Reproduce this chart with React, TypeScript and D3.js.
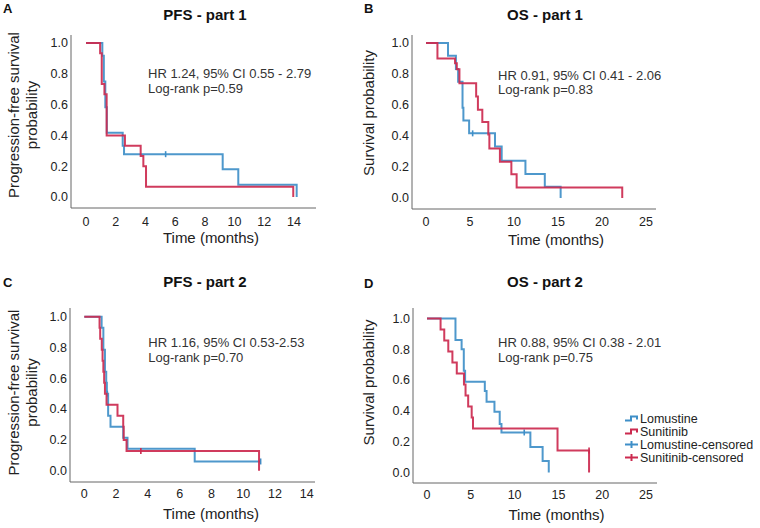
import React from "react";
import * as d3 from "d3";

// ---------- data ----------
const yTicks = [0, 0.2, 0.4, 0.6, 0.8, 1.0];
const xTicksPFS = [0, 2, 4, 6, 8, 10, 12, 14];
const xTicksOS = [0, 5, 10, 15, 20, 25];

const seriesNames = ["Lomustine", "Sunitinib", "Lomustine-censored", "Sunitinib-censored"];
const panelLetters = ["A", "B", "C", "D"];
const panelTitles = ["PFS - part 1", "OS - part 1", "PFS - part 2", "OS - part 2"];
const hrTexts = [
  "HR 1.24, 95% CI 0.55 - 2.79",
  "HR 0.91, 95% CI 0.41 - 2.06",
  "HR 1.16, 95% CI 0.53-2.53",
  "HR 0.88, 95% CI 0.38 - 2.01",
];
const pTexts = ["Log-rank p=0.59", "Log-rank p=0.83", "Log-rank p=0.70", "Log-rank p=0.75"];

// Panel A: PFS part 1
const aLomT = [0, 1.1, 1.2, 1.3, 1.4, 2.47, 2.56, 9.2, 10.25, 14.18];
const aLomS = [1, 0.917, 0.75, 0.583, 0.417, 0.333, 0.278, 0.18, 0.08, 0];
const aLomCensT = [5.36];
const aLomCensS = [0.278];
const aSunT = [0, 0.95, 1.06, 1.24, 1.39, 2.62, 3.68, 3.86, 4.04, 13.95];
const aSunS = [1, 0.933, 0.733, 0.667, 0.4, 0.333, 0.267, 0.2, 0.067, 0];
const aSunCensT: number[] = [];
const aSunCensS: number[] = [];

// Panel B: OS part 1
const bLomT = [0, 2.5, 3.4, 3.65, 4.15, 4.25, 4.9, 7.84, 8.6, 11.3, 13.5, 15.3];
const bLomS = [1, 0.917, 0.833, 0.75, 0.583, 0.5, 0.417, 0.333, 0.24, 0.155, 0.072, 0];
const bLomCensT = [5.3];
const bLomCensS = [0.417];
const bSunT = [0, 1.3, 3.3, 3.5, 3.8, 5.7, 5.9, 6.4, 7.08, 7.2, 8.4, 9.7, 10.3, 22.3];
const bSunS = [1, 0.9, 0.87, 0.83, 0.74, 0.655, 0.57, 0.49, 0.41, 0.32, 0.234, 0.153, 0.067, 0];
const bSunCensT: number[] = [];
const bSunCensS: number[] = [];

// Panel C: PFS part 2
const cLomT = [0, 1.09, 1.2, 1.3, 1.38, 1.42, 1.5, 1.65, 2.45, 2.72, 6.95, 11.1];
const cLomS = [1, 0.929, 0.786, 0.643, 0.571, 0.5, 0.357, 0.286, 0.214, 0.143, 0.06, 0.06];
const cLomCensT = [1.45, 11.1];
const cLomCensS = [0.5, 0.06];
const cSunT = [0, 0.96, 1.0, 1.1, 1.15, 1.2, 1.25, 1.3, 1.4, 2.09, 2.45, 2.48, 2.66, 11.0];
const cSunS = [1, 0.929, 0.857, 0.786, 0.714, 0.643, 0.571, 0.5, 0.429, 0.357, 0.286, 0.2, 0.128, 0];
const cSunCensT = [3.56];
const cSunCensS = [0.128];

// Panel D: OS part 2
const dLomT = [0, 3.25, 3.95, 4.2, 4.35, 6.6, 6.8, 7.7, 8.3, 8.5, 11.8, 13.2, 13.9];
const dLomS = [1, 0.86, 0.8, 0.66, 0.59, 0.53, 0.46, 0.395, 0.315, 0.26, 0.165, 0.075, 0];
const dLomCensT = [11.1];
const dLomCensS = [0.26];
const dSunT = [0, 1.55, 1.97, 2.43, 2.9, 3.4, 4.22, 4.4, 4.7, 5.1, 5.25, 14.9, 18.5];
const dSunS = [1, 0.929, 0.857, 0.786, 0.714, 0.643, 0.571, 0.5, 0.429, 0.357, 0.286, 0.143, 0];
const dSunCensT = [18.5];
const dSunCensS = [0.143];

// ---------- styling / layout ----------
const BLUE = "#3f8fc8";
const RED = "#cc2a4f";
const FONT = "'Liberation Sans', Arial, Helvetica, sans-serif";

type Layout = {
  axL: number; axR: number; axT: number; axB: number;
  x0: number; x0px: number; x1: number; x1px: number;
  y1px: number; y0px: number;
  titleX: number; titleY: number; letterX: number; letterY: number;
  annX: number; annY1: number; annY2: number;
  tickY: number; xLabelX: number; xLabelY: number;
  yLabCenter: number; yLabX1: number; yLabX2: number | null;
};

const layouts: Layout[] = [
  { axL: 71, axR: 316, axT: 35, axB: 208, x0: 0, x0px: 86, x1: 14, x1px: 294, y1px: 43, y0px: 197,
    titleX: 205, titleY: 19.5, letterX: 3, letterY: 13, annX: 148, annY1: 77.5, annY2: 92.5,
    tickY: 225.5, xLabelX: 211, xLabelY: 243, yLabCenter: 115, yLabX1: 19, yLabX2: 37 },
  { axL: 412, axR: 656, axT: 35, axB: 209, x0: 0, x0px: 426, x1: 25, x1px: 646, y1px: 43, y0px: 198,
    titleX: 545, titleY: 19.5, letterX: 364, letterY: 13, annX: 498, annY1: 79.5, annY2: 94,
    tickY: 226, xLabelX: 556, xLabelY: 244.5, yLabCenter: 113, yLabX1: 374, yLabX2: null },
  { axL: 70, axR: 315, axT: 308, axB: 482, x0: 0, x0px: 84.3, x1: 14, x1px: 306.7, y1px: 316.7, y0px: 470.7,
    titleX: 205, titleY: 286.7, letterX: 3, letterY: 287, annX: 148.3, annY1: 346.7, annY2: 361.5,
    tickY: 497.5, xLabelX: 211, xLabelY: 518.5, yLabCenter: 392.5, yLabX1: 19, yLabX2: 37 },
  { axL: 413, axR: 657, axT: 308, axB: 483, x0: 0, x0px: 427, x1: 25, x1px: 646, y1px: 318.5, y0px: 472.5,
    titleX: 545, titleY: 287, letterX: 364, letterY: 288, annX: 498, annY1: 347, annY2: 362,
    tickY: 499, xLabelX: 556.5, xLabelY: 519.5, yLabCenter: 382.5, yLabX1: 374, yLabX2: null },
];

type Curve = { t: number[]; s: number[]; ct: number[]; cs: number[]; color: string };

const panelCurves: Curve[][] = [
  [
    { t: aLomT, s: aLomS, ct: aLomCensT, cs: aLomCensS, color: BLUE },
    { t: aSunT, s: aSunS, ct: aSunCensT, cs: aSunCensS, color: RED },
  ],
  [
    { t: bLomT, s: bLomS, ct: bLomCensT, cs: bLomCensS, color: BLUE },
    { t: bSunT, s: bSunS, ct: bSunCensT, cs: bSunCensS, color: RED },
  ],
  [
    { t: cLomT, s: cLomS, ct: cLomCensT, cs: cLomCensS, color: BLUE },
    { t: cSunT, s: cSunS, ct: cSunCensT, cs: cSunCensS, color: RED },
  ],
  [
    { t: dLomT, s: dLomS, ct: dLomCensT, cs: dLomCensS, color: BLUE },
    { t: dSunT, s: dSunS, ct: dSunCensT, cs: dSunCensS, color: RED },
  ],
];

const xTicksFor = [xTicksPFS, xTicksOS, xTicksPFS, xTicksOS];
const yLabel1 = ["Progression-free survival", "Survival probability", "Progression-free survival", "Survival probability"];
const yLabel2 = ["probability", null, "probability", null];

function Panel({ idx }: { idx: number }) {
  const L = layouts[idx];
  const x = d3.scaleLinear().domain([L.x0, L.x1]).range([L.x0px, L.x1px]);
  const y = d3.scaleLinear().domain([0, 1]).range([L.y0px, L.y1px]);
  const line = d3
    .line<[number, number]>()
    .x((d) => x(d[0]))
    .y((d) => y(d[1]))
    .curve(d3.curveStepAfter);
  const curves = panelCurves[idx];
  const l2 = yLabel2[idx];
  return (
    <g>
      <text x={L.letterX} y={L.letterY} fontSize={13} fontWeight="bold" fontFamily={FONT} fill="#111">
        {panelLetters[idx]}
      </text>
      <text x={L.titleX} y={L.titleY} fontSize={15} fontWeight="bold" fontFamily={FONT} textAnchor="middle" fill="#111">
        {panelTitles[idx]}
      </text>
      {/* axes */}
      <line x1={L.axL} x2={L.axL} y1={L.axT} y2={L.axB} stroke="#666" strokeWidth={1} />
      <line x1={L.axL} x2={L.axR} y1={L.axB} y2={L.axB} stroke="#666" strokeWidth={1} />
      {yTicks.map((v) => (
        <text key={"y" + v} x={L.axL - 3} y={y(v)} dy="0.35em" fontSize={12.5} fontFamily={FONT} textAnchor="end" fill="#222">
          {v.toFixed(1)}
        </text>
      ))}
      {xTicksFor[idx].map((v) => (
        <text key={"x" + v} x={x(v)} y={L.tickY} fontSize={12.5} fontFamily={FONT} textAnchor="middle" fill="#222">
          {v}
        </text>
      ))}
      <text x={L.xLabelX} y={L.xLabelY} fontSize={15} fontFamily={FONT} textAnchor="middle" fill="#222">
        Time (months)
      </text>
      <text
        transform={`translate(${L.yLabX1},${L.yLabCenter}) rotate(-90)`}
        fontSize={15}
        fontFamily={FONT}
        textAnchor="middle"
        fill="#222"
      >
        {yLabel1[idx]}
      </text>
      {l2 && L.yLabX2 !== null && (
        <text
          transform={`translate(${L.yLabX2},${L.yLabCenter}) rotate(-90)`}
          fontSize={15}
          fontFamily={FONT}
          textAnchor="middle"
          fill="#222"
        >
          {l2}
        </text>
      )}
      {/* curves */}
      {curves.map((c, ci) => {
        const pts = c.t.map((t, i) => [t, c.s[i]] as [number, number]);
        return (
          <g key={"c" + ci}>
            <path d={line(pts) || ""} fill="none" stroke={c.color} strokeWidth={2} strokeOpacity={0.92} />
            {c.ct.map((t, k) => (
              <line
                key={"k" + k}
                x1={x(t)}
                x2={x(t)}
                y1={y(c.cs[k]) - 3}
                y2={y(c.cs[k]) + 3}
                stroke={c.color}
                strokeWidth={1.6}
              />
            ))}
          </g>
        );
      })}
      <text x={L.annX} y={L.annY1} fontSize={13} fontFamily={FONT} fill="#333">
        {hrTexts[idx]}
      </text>
      <text x={L.annX} y={L.annY2} fontSize={13} fontFamily={FONT} fill="#333">
        {pTexts[idx]}
      </text>
    </g>
  );
}

function Legend() {
  const x0 = 625;
  const baselines = [423, 436, 449, 462];
  const colors = [BLUE, RED, BLUE, RED];
  return (
    <g>
      {seriesNames.map((name, i) => {
        const b = baselines[i];
        const cy = b - 4.5;
        const isCens = i >= 2;
        return (
          <g key={name}>
            {isCens ? (
              <g>
                <line x1={x0} x2={x0 + 13} y1={cy} y2={cy} stroke={colors[i]} strokeWidth={2} />
                <line x1={x0 + 6.5} x2={x0 + 6.5} y1={cy - 3.5} y2={cy + 3.5} stroke={colors[i]} strokeWidth={2} />
              </g>
            ) : (
              <path
                d={`M${x0},${cy + 2}H${x0 + 6}V${cy - 2}H${x0 + 12}V${cy + 1}`}
                fill="none"
                stroke={colors[i]}
                strokeWidth={2}
              />
            )}
            <text x={x0 + 15} y={b} fontSize={12.5} fontFamily={FONT} fill="#222">
              {name}
            </text>
          </g>
        );
      })}
    </g>
  );
}

export default function App() {
  return (
    <svg
      width={760}
      height={528}
      viewBox="0 0 760 528"
      style={{ position: "absolute", left: 0, top: 0, background: "#fff" }}
    >
      <rect width={760} height={528} fill="#fff" />
      {[0, 1, 2, 3].map((i) => (
        <Panel key={i} idx={i} />
      ))}
      <Legend />
    </svg>
  );
}
